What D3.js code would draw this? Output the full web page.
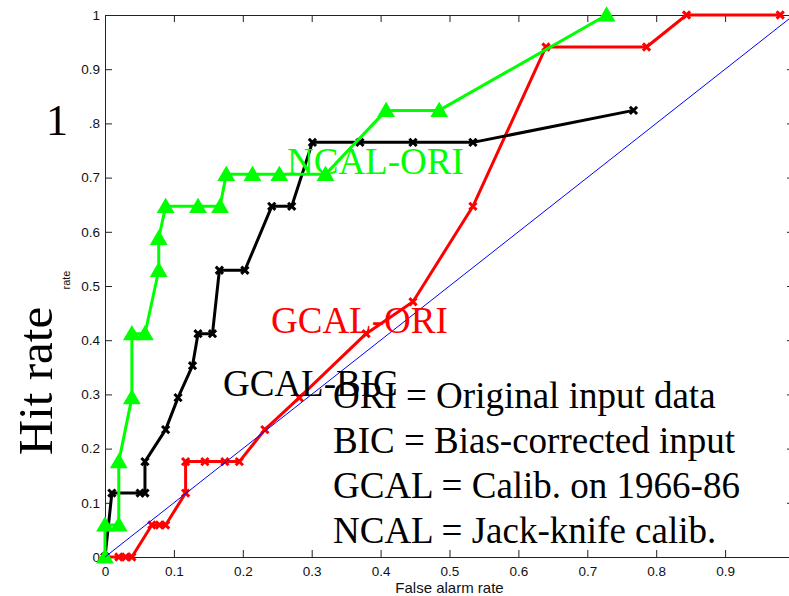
<!DOCTYPE html>
<html>
<head>
<meta charset="utf-8">
<script src="https://cdn.jsdelivr.net/npm/d3@7/dist/d3.min.js"></script>
<style>
  html, body { margin: 0; padding: 0; background: #fff; }
  svg { display: block; }
</style>
</head>
<body>
<svg id="chart" width="789" height="596"></svg>
<script>
// ---- Data ----
const xTicks = [0, 0.1, 0.2, 0.3, 0.4, 0.5, 0.6, 0.7, 0.8, 0.9];
const yTicks = [0, 0.1, 0.2, 0.3, 0.4, 0.5, 0.6, 0.7, 0.8, 0.9, 1];

// NCAL-ORI (green, triangles)
const ncalOriFar = [0, 0, 0.02, 0.02, 0.039, 0.039, 0.058, 0.078, 0.078, 0.088, 0.135, 0.167, 0.176, 0.214, 0.253, 0.32, 0.408, 0.485, 0.728];
const ncalOriHit = [0, 0.059, 0.059, 0.176, 0.294, 0.412, 0.412, 0.529, 0.588, 0.647, 0.647, 0.647, 0.706, 0.706, 0.706, 0.706, 0.824, 0.824, 1.0];

// GCAL-BIC (black, x)
const gcalBicFar = [0, 0.01, 0.051, 0.058, 0.058, 0.088, 0.106, 0.127, 0.135, 0.156, 0.166, 0.203, 0.242, 0.271, 0.301, 0.37, 0.447, 0.534, 0.767];
const gcalBicHit = [0, 0.118, 0.118, 0.118, 0.176, 0.235, 0.294, 0.353, 0.412, 0.412, 0.529, 0.529, 0.647, 0.647, 0.765, 0.765, 0.765, 0.765, 0.824];

// GCAL-ORI (red, x)
const gcalOriFar = [0, 0.02, 0.03, 0.039, 0.068, 0.079, 0.088, 0.117, 0.117, 0.145, 0.174, 0.195, 0.232, 0.282, 0.379, 0.447, 0.534, 0.64, 0.786, 0.844, 0.98];
const gcalOriHit = [0, 0, 0, 0, 0.059, 0.059, 0.059, 0.118, 0.176, 0.176, 0.176, 0.176, 0.235, 0.294, 0.412, 0.471, 0.647, 0.941, 0.941, 1.0, 1.0];

// No-skill diagonal
const diagFar = [0, 1];
const diagHit = [0, 1];

const legendLines = ["ORI = Original input data", "BIC = Bias-corrected input", "GCAL = Calib. on 1966-86", "NCAL = Jack-knife calib."];

// ---- Layout ----
const svg = d3.select("#chart");
const m = { left: 105, top: 15 };
const W = 689, H = 542;
const x = d3.scaleLinear().domain([0, 1]).range([m.left, m.left + W]);
const y = d3.scaleLinear().domain([0, 1]).range([m.top + H, m.top]);

const fmt = d => d === 0 ? "0" : d === 1 ? "1" : d.toFixed(1);
const axisFont = "'Liberation Sans', Arial, Helvetica, sans-serif";
const serif = "'Liberation Serif', 'Times New Roman', Times, serif";

function styleAxis(g) {
  g.selectAll("path.domain").attr("stroke", "#222").attr("stroke-width", 1);
  g.selectAll(".tick line").attr("stroke", "#222").attr("stroke-width", 1);
  g.selectAll("text").attr("font-family", axisFont).attr("font-size", 13.5).attr("fill", "#111");
}

// axes
svg.append("g").attr("transform", `translate(0,${y(0)})`)
  .call(d3.axisBottom(x).tickValues(xTicks).tickFormat(fmt).tickSizeInner(-7).tickSizeOuter(0).tickPadding(9))
  .call(styleAxis);
svg.append("g").attr("transform", `translate(0,${y(1)})`)
  .call(d3.axisTop(x).tickValues(xTicks).tickFormat("").tickSizeInner(-7).tickSizeOuter(0))
  .call(styleAxis);
svg.append("g").attr("transform", `translate(${x(0)},0)`)
  .call(d3.axisLeft(y).tickValues(yTicks).tickFormat(fmt).tickSizeInner(-7).tickSizeOuter(0).tickPadding(5))
  .call(styleAxis);
svg.append("g").attr("transform", `translate(${x(1)},0)`)
  .call(d3.axisRight(y).tickValues(yTicks).tickFormat("").tickSizeInner(-7).tickSizeOuter(0))
  .call(styleAxis);

// axis labels
svg.append("text").attr("x", x(0.5)).attr("y", 593).attr("text-anchor", "middle")
  .attr("font-family", axisFont).attr("font-size", 15).attr("fill", "#111").text("False alarm rate");
svg.append("text").attr("transform", `translate(70,280) rotate(-90)`).attr("text-anchor", "middle")
  .attr("font-family", axisFont).attr("font-size", 11).attr("fill", "#111").text("rate");
svg.append("text").attr("transform", `translate(52,381) rotate(-90)`).attr("text-anchor", "middle")
  .attr("font-family", serif).attr("font-size", 49).attr("fill", "#000").text("Hit rate");

// overlay box with big "1" (covers the leading 0 of the 0.8 tick label)
svg.append("rect").attr("x", 30).attr("y", 98).attr("width", 59).attr("height", 48).attr("fill", "#fff");
svg.append("text").attr("x", 57).attr("y", 135).attr("text-anchor", "middle")
  .attr("font-family", serif).attr("font-size", 44).attr("fill", "#000").text("1");

// series
function zip(a, b) { return a.map((v, i) => [v, b[i]]); }
const line = d3.line().x(d => x(d[0])).y(d => y(d[1]));
const plot = svg.append("g");

function drawSeries(data, color, marker) {
  plot.append("path").datum(data).attr("d", line).attr("fill", "none")
    .attr("stroke", color).attr("stroke-width", 3).attr("stroke-linejoin", "round");
  const g = plot.append("g");
  if (marker === "x") {
    const s = 3.6;
    g.selectAll("path.mk").data(data).enter().append("path")
      .attr("d", d => `M${x(d[0]) - s},${y(d[1]) - s}L${x(d[0]) + s},${y(d[1]) + s}M${x(d[0]) - s},${y(d[1]) + s}L${x(d[0]) + s},${y(d[1]) - s}`)
      .attr("stroke", color).attr("stroke-width", 3).attr("fill", "none");
  } else {
    g.selectAll("path.mk").data(data).enter().append("path")
      .attr("d", d => `M${x(d[0])},${y(d[1]) - 6.5}L${x(d[0]) + 7},${y(d[1]) + 5.5}L${x(d[0]) - 7},${y(d[1]) + 5.5}Z`)
      .attr("stroke", color).attr("stroke-width", 2.2).attr("fill", color).attr("stroke-linejoin", "miter");
  }
}

drawSeries(zip(gcalOriFar, gcalOriHit), "#ff0000", "x");
drawSeries(zip(gcalBicFar, gcalBicHit), "#000000", "x");
drawSeries(zip(ncalOriFar, ncalOriHit), "#00ff00", "tri");

plot.append("path").datum(zip(diagFar, diagHit)).attr("d", line).attr("fill", "none")
  .attr("stroke", "#0000ff").attr("stroke-width", 1);

// annotations
const ann = svg.append("g").attr("font-family", serif).attr("font-size", 37);
ann.append("text").attr("x", 287).attr("y", 174).attr("fill", "#00ff00").text("NCAL-ORI");
ann.append("text").attr("x", 271).attr("y", 333).attr("fill", "#ff0000").text("GCAL-ORI");
ann.append("text").attr("x", 223).attr("y", 396).attr("fill", "#000").text("GCAL-BIC");
ann.selectAll("text.leg").data(legendLines).enter().append("text")
  .attr("x", 333).attr("y", (d, i) => 408 + i * 45).attr("fill", "#000").text(d => d);
</script>
</body>
</html>
